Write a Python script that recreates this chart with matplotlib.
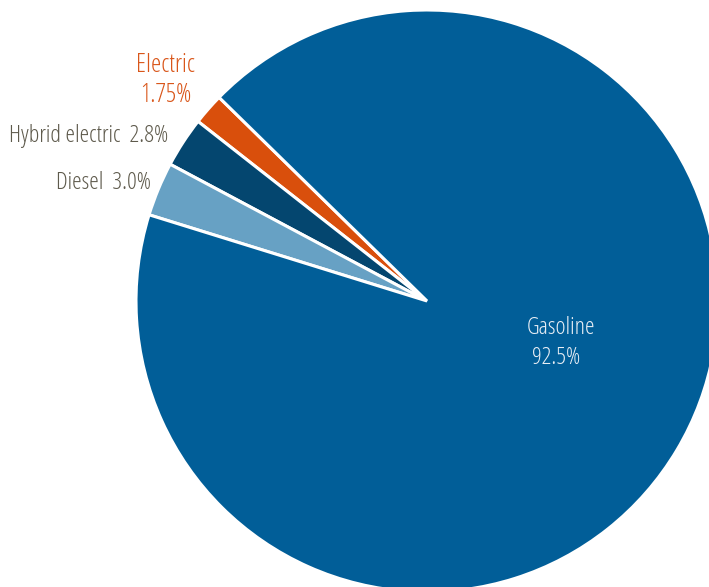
import matplotlib
matplotlib.use("Agg")
import matplotlib.pyplot as plt
from matplotlib import font_manager
from matplotlib.font_manager import FontProperties

# Fuel type shares (%)
categories = ["Electric", "Hybrid electric", "Diesel", "Gasoline"]
shares = [1.75, 2.8, 3.0, 92.5]
value_labels = ["1.75%", "2.8%", "3.0%", "92.5%"]
colors = ["#d94f0c", "#04466f", "#67a1c4", "#015e98"]


def pick_condensed_font():
    """Find a condensed (ideally light) sans face among installed fonts."""
    order = ["Open Sans", "Roboto", "Noto Sans", "Liberation Sans", "DejaVu Sans"]
    best, best_score = None, None
    for f in font_manager.fontManager.ttflist:
        tag = (f.name + " " + str(f.stretch) + " " + f.fname).lower()
        if not ("condensed" in tag or "narrow" in tag):
            continue
        if "italic" in f.fname.lower() or f.style != "normal":
            continue
        fam_rank = next((i for i, n in enumerate(order) if f.name.startswith(n)), len(order))
        w = f.weight if isinstance(f.weight, int) else 400
        score = (fam_rank, abs(w - 300))
        if best_score is None or score < best_score:
            best, best_score = f, score
    return best


face = pick_condensed_font()
if face is not None:
    base_font = dict(fname=face.fname)
else:
    base_font = dict(family="DejaVu Sans", stretch="condensed")

W, H = 709, 587
fig = plt.figure(figsize=(W / 100, H / 100), dpi=100)
ax = fig.add_axes([0, 0, 1, 1])

cx, cy, r = 427, H - 301, 291
ax.pie(shares, colors=colors, startangle=135.6, counterclock=True,
       center=(cx, cy), radius=r, frame=True,
       wedgeprops=dict(edgecolor="white", linewidth=2.2))
ax.set_xlim(0, W)
ax.set_ylim(0, H)
ax.set_aspect("equal")
ax.axis("off")

gray = "#5e5a4c"
fp = FontProperties(size=17.4, **base_font)
fp_big = FontProperties(size=18.6, **base_font)
ax.text(165.5, H - 72, categories[0], color="#d9561a", fontproperties=fp_big,
        ha="center", va="baseline")
ax.text(165.5, H - 102, value_labels[0], color="#d9561a", fontproperties=fp_big,
        ha="center", va="baseline")
ax.text(168, H - 142, f"{categories[1]}  {value_labels[1]}", color=gray, fontproperties=fp,
        ha="right", va="baseline")
ax.text(151, H - 189, f"{categories[2]}  {value_labels[2]}", color=gray, fontproperties=fp,
        ha="right", va="baseline")
ax.text(561.5, H - 334, categories[3], color="#e8eef5", fontproperties=fp,
        ha="center", va="baseline")
ax.text(556.5, H - 364, value_labels[3], color="#e8eef5", fontproperties=fp,
        ha="center", va="baseline")

fig.savefig("out.png", dpi=100)
